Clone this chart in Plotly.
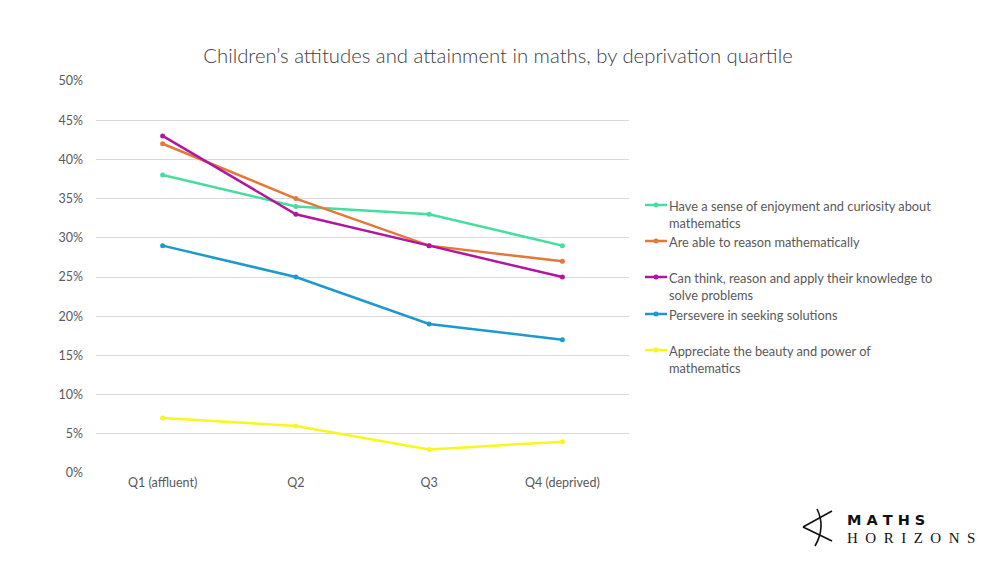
import plotly.graph_objects as go

categories = ["Q1 (affluent)", "Q2", "Q3", "Q4 (deprived)"]
series_names = [
    "Have a sense of enjoyment and curiosity about<br>mathematics",
    "Are able to reason mathematically",
    "Can think, reason and apply their knowledge to<br>solve problems",
    "Persevere in seeking solutions",
    "Appreciate the beauty and power of<br>mathematics",
]
enjoyment = [0.38, 0.34, 0.33, 0.29]
reason = [0.42, 0.35, 0.29, 0.27]
apply_knowledge = [0.43, 0.33, 0.29, 0.25]
persevere = [0.29, 0.25, 0.19, 0.17]
beauty = [0.07, 0.06, 0.03, 0.04]
all_values = [enjoyment, reason, apply_knowledge, persevere, beauty]
colors = ["#45DE9E", "#E2793A", "#B2169F", "#1E99CD", "#F7F71C"]
y_ticks = [0, 0.05, 0.10, 0.15, 0.20, 0.25, 0.30, 0.35, 0.40, 0.45, 0.50]

FONT = "Lato"
fig = go.Figure()
order = [4, 3, 0, 1, 2]
for i in order:
    fig.add_trace(go.Scatter(
        x=categories, y=all_values[i], mode="lines+markers",
        line=dict(color=colors[i], width=2.5),
        marker=dict(color=colors[i], size=5),
        name=series_names[i], showlegend=False, hoverinfo="y",
    ))

shapes = []
annotations = []
W, H = 1000, 563
L, R, T, B = 96, 629, 81, 473
def px(xpix):
    return (xpix - L) / (R - L)
def py(ypix):
    return (B - ypix) / (B - T)

leg_y = [205, 241, 277, 314, 350]
for i, name in enumerate(series_names):
    yc = leg_y[i]
    shapes.append(dict(type="line", xref="paper", yref="paper",
                       x0=px(645), x1=px(667), y0=py(yc), y1=py(yc),
                       line=dict(color=colors[i], width=2.5)))
    shapes.append(dict(type="circle", xref="paper", yref="paper",
                       x0=px(653.5), x1=px(658.5), y0=py(yc + 2.5), y1=py(yc - 2.5),
                       fillcolor=colors[i], line=dict(color=colors[i], width=0)))
    annotations.append(dict(xref="paper", yref="paper", x=px(667), y=py(yc - 9),
                            xanchor="left", yanchor="top", align="left",
                            text=name, showarrow=False,
                            font=dict(family=FONT, size=12.8, color="#595959")))

# logo
shapes += [
    dict(type="line", xref="paper", yref="paper", x0=px(803), y0=py(527), x1=px(832), y1=py(511),
         line=dict(color="#111111", width=1.6)),
    dict(type="line", xref="paper", yref="paper", x0=px(803), y0=py(527), x1=px(832), y1=py(541),
         line=dict(color="#111111", width=1.6)),
    dict(type="path", xref="paper", yref="paper",
         path=f"M {px(817)},{py(509)} Q {px(826)},{py(527)} {px(815)},{py(546)}",
         line=dict(color="#111111", width=1.6)),
]
annotations.append(dict(xref="paper", yref="paper", x=px(845), y=py(520), xanchor="left", yanchor="middle",
                        text="<b>M A T H S</b>", showarrow=False,
                        font=dict(family="DejaVu Sans", size=14.5, color="#111111")))
annotations.append(dict(xref="paper", yref="paper", x=px(845), y=py(538), xanchor="left", yanchor="middle",
                        text="H&nbsp; O&nbsp; R&nbsp; I&nbsp; Z&nbsp; O&nbsp; N&nbsp; S", showarrow=False,
                        font=dict(family="Liberation Serif", size=15, color="#111111")))

fig.update_layout(
    width=W, height=H,
    margin=dict(l=L, r=W - R, t=T, b=H - B),
    paper_bgcolor="white", plot_bgcolor="white",
    title=dict(text="Children’s attitudes and attainment in maths, by deprivation quartile",
               x=0.498, xanchor="center", y=1 - 56 / H, yanchor="middle",
               font=dict(family=FONT, size=20.3, color="#404040", weight=300)),
    xaxis=dict(range=[-0.5, 3.5], showgrid=False, zeroline=False, showline=False,
               ticks="", tickfont=dict(family=FONT, size=12.5, color="#595959")),
    yaxis=dict(range=[0, 0.5], tickvals=y_ticks, tickformat=".0%",
               showgrid=True, gridcolor="#D9D9D9", gridwidth=1, zeroline=False,
               showline=False, ticks="", ticklabelstandoff=12,
               tickfont=dict(family=FONT, size=12.5, color="#595959")),
    shapes=shapes, annotations=annotations,
    showlegend=False,
)
fig.write_html("out.html")
